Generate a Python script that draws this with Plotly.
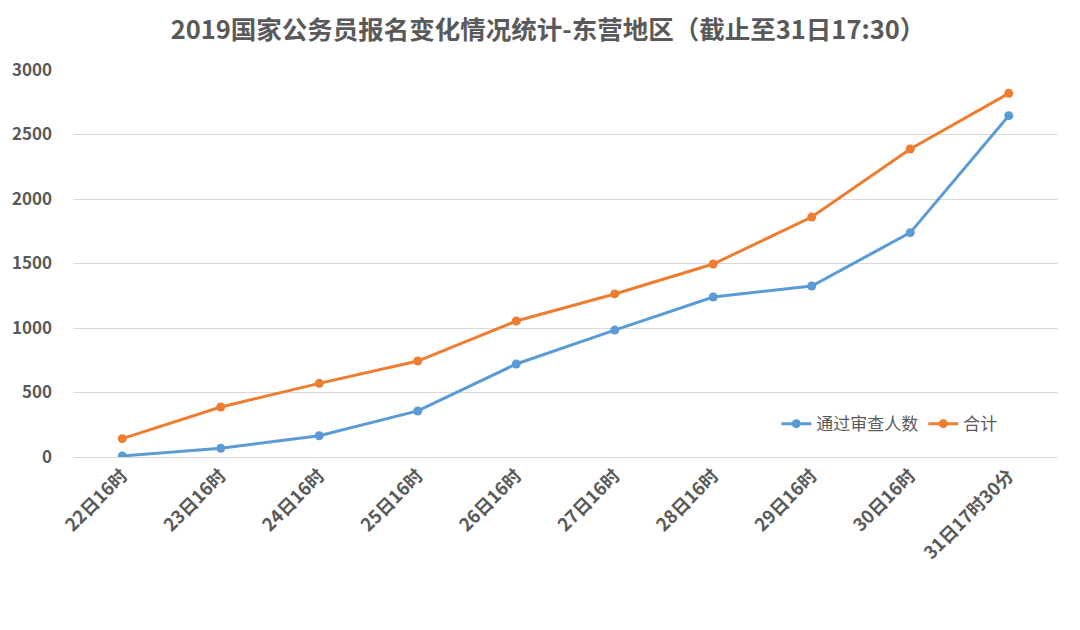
import plotly.graph_objects as go

categories = ["22日16时", "23日16时", "24日16时", "25日16时", "26日16时",
              "27日16时", "28日16时", "29日16时", "30日16时", "31日17时30分"]
approved = [8, 67, 165, 357, 721, 984, 1240, 1326, 1739, 2646]
total = [142, 388, 571, 744, 1054, 1264, 1496, 1860, 2388, 2819]
series_names = ["通过审查人数", "合计"]
y_ticks = [0, 500, 1000, 1500, 2000, 2500, 3000]

FONT = "Noto Sans CJK SC"
GREY = "#595959"

fig = go.Figure()
fig.add_trace(go.Scatter(x=categories, y=approved, name=series_names[0], mode="lines+markers",
                         line=dict(color="#5B9BD5", width=3),
                         marker=dict(color="#5B9BD5", size=9)))
fig.add_trace(go.Scatter(x=categories, y=total, name=series_names[1], mode="lines+markers",
                         line=dict(color="#ED7D31", width=3),
                         marker=dict(color="#ED7D31", size=9)))

fig.update_layout(
    width=1080, height=630,
    paper_bgcolor="white", plot_bgcolor="white",
    margin=dict(l=65, r=30, t=62, b=181),
    title=dict(text="2019国家公务员报名变化情况统计-东营地区（截止至31日17:30）",
               x=0.5, xanchor="center", y=0.965, yanchor="middle",
               font=dict(family=FONT, size=25.5, color=GREY, weight="bold")),
    font=dict(family=FONT, color=GREY),
    legend=dict(orientation="h", x=0.714, y=0.085, xanchor="left", yanchor="middle",
                font=dict(family=FONT, size=17, color=GREY), bgcolor="rgba(0,0,0,0)"),
    showlegend=True,
)
fig.update_xaxes(type="category", tickangle=-45, showgrid=False, showline=True,
                 linecolor="#D9D9D9", linewidth=1, ticks="", automargin=False,
                 tickfont=dict(family=FONT, size=18, color=GREY, weight="bold"),
                 range=[-0.5, len(categories) - 0.5])
fig.update_yaxes(range=[0, 3000], tickvals=y_ticks, showgrid=True, gridcolor="#D9D9D9",
                 gridwidth=1, zeroline=False, showline=False, ticks="", automargin=False,
                 tickfont=dict(family=FONT, size=17, color=GREY, weight="bold"),
                 ticklabelstandoff=20)

fig.write_html("out.html")
